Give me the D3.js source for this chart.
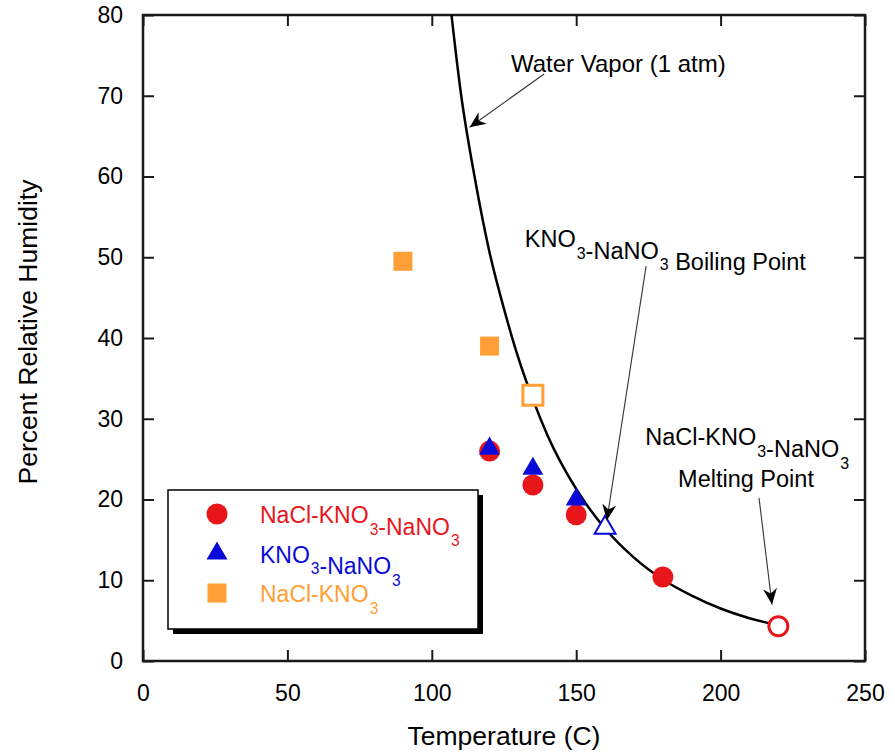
<!DOCTYPE html>
<html>
<head>
<meta charset="utf-8">
<script src="https://cdn.jsdelivr.net/npm/d3@7"></script>
<style>
  body { margin: 0; background: #fff; }
  text { font-family: "Liberation Sans", Arial, sans-serif; }
</style>
</head>
<body>
<div id="chart"></div>
<script>
// Data
const ternaryT = [120, 135, 150, 180];          // NaCl-KNO3-NaNO3
const ternaryRH = [26.0, 21.8, 18.1, 10.4];
const ternaryMelt = {t: 220, rh: 4.3};

const binaryT = [120, 135, 150];                // KNO3-NaNO3
const binaryRH = [26.3, 23.8, 20.0];
const binaryBoil = {t: 160, rh: 16.5};

const naclT = [90, 120];                        // NaCl-KNO3
const naclRH = [49.5, 39.0];
const naclOpen = {t: 135, rh: 32.9};

// water vapour (1 atm) curve
const vaporT = [106.5, 110, 115, 120, 125, 130, 135, 140, 150, 160, 170, 180, 190, 200, 210, 220];
const vaporRH = [81, 70.5, 59.6, 50.6, 43.6, 37.5, 32.4, 28.0, 21.3, 16.4, 12.8, 10.1, 8.1, 6.5, 5.3, 4.4];

const xTicks = [0, 50, 100, 150, 200, 250];
const yTicks = [0, 10, 20, 30, 40, 50, 60, 70, 80];

const red = "#e8161b", blue = "#0a0ad8", orange = "#ff9f35";

const W = 895, H = 752;
const margin = {top: 15, right: 30, bottom: 91, left: 143},
      width = W - margin.left - margin.right,
      height = H - margin.top - margin.bottom;

const svg = d3.select("#chart").append("svg")
    .attr("width", W).attr("height", H);

const defs = svg.append("defs");
defs.append("clipPath").attr("id", "clip")
  .append("rect").attr("width", width).attr("height", height);
defs.append("marker")
    .attr("id", "arrow")
    .attr("viewBox", "-16 -8 18 16")
    .attr("markerUnits", "userSpaceOnUse")
    .attr("markerWidth", 18).attr("markerHeight", 16)
    .attr("refX", 0).attr("refY", 0)
    .attr("orient", "auto")
  .append("path")
    .attr("d", "M0,0 L-16,-7 L-11,0 L-16,7 Z")
    .attr("fill", "#000");

const g = svg.append("g")
    .attr("transform", `translate(${margin.left},${margin.top})`);

const x = d3.scaleLinear().domain([0, 250]).range([0, width]);
const y = d3.scaleLinear().domain([0, 80]).range([height, 0]);

// Axes with inward ticks, mirrored on top/right
const tickLen = 11;
const axisColor = "#1a1a1a";
function styleAxis(sel) {
  sel.select(".domain").remove();
  sel.selectAll(".tick line").attr("stroke", axisColor).attr("stroke-width", 2);
}
g.append("g").attr("transform", `translate(0,${height})`)
  .call(d3.axisBottom(x).tickValues(xTicks).tickSize(-tickLen).tickPadding(24).tickFormat(d3.format("d")))
  .call(styleAxis)
  .call(s => s.selectAll("text").attr("font-size", 23).attr("fill", "#000")
      .attr("font-family", "Liberation Sans, Arial, sans-serif"));
g.append("g")
  .call(d3.axisTop(x).tickValues(xTicks).tickSize(-tickLen).tickFormat(""))
  .call(styleAxis);
g.append("g")
  .call(d3.axisLeft(y).tickValues(yTicks).tickSize(-tickLen).tickPadding(20))
  .call(styleAxis)
  .call(s => s.selectAll("text").attr("font-size", 23).attr("fill", "#000")
      .attr("font-family", "Liberation Sans, Arial, sans-serif"));
g.append("g").attr("transform", `translate(${width},0)`)
  .call(d3.axisRight(y).tickValues(yTicks).tickSize(-tickLen).tickFormat(""))
  .call(styleAxis);

g.append("rect")
    .attr("width", width).attr("height", height)
    .attr("fill", "none").attr("stroke", axisColor).attr("stroke-width", 2.5);

// Axis titles
g.append("text")
    .attr("x", width / 2).attr("y", height + 84)
    .attr("text-anchor", "middle").attr("font-size", 26.5)
    .text("Temperature (C)");
g.append("text")
    .attr("transform", `translate(${-106},${height / 2 - 6}) rotate(-90)`)
    .attr("text-anchor", "middle").attr("font-size", 26.5)
    .text("Percent Relative Humidity");

// Water vapour curve
const vapor = vaporT.map((t, i) => ({t: t, rh: vaporRH[i]}));
g.append("path")
    .datum(vapor)
    .attr("clip-path", "url(#clip)")
    .attr("fill", "none").attr("stroke", "#000").attr("stroke-width", 2.5)
    .attr("d", d3.line().x(d => x(d.t)).y(d => y(d.rh)).curve(d3.curveMonotoneX));

// Markers
const circle = d3.symbol().type(d3.symbolCircle).size(Math.PI * 10.5 * 10.5);
const tri = d3.symbol().type(d3.symbolTriangle).size(190);
const square = d3.symbol().type(d3.symbolSquare).size(19 * 19);

const nacl = naclT.map((t, i) => ({t: t, rh: naclRH[i]}));
g.selectAll(".nacl").data(nacl).join("path")
    .attr("class", "nacl")
    .attr("d", square)
    .attr("transform", d => `translate(${x(d.t)},${y(d.rh)})`)
    .attr("fill", orange);
g.append("path")
    .attr("d", d3.symbol().type(d3.symbolSquare).size(20 * 20)())
    .attr("transform", `translate(${x(naclOpen.t)},${y(naclOpen.rh)})`)
    .attr("fill", "#fff").attr("stroke", orange).attr("stroke-width", 3);

const ternary = ternaryT.map((t, i) => ({t: t, rh: ternaryRH[i]}));
g.selectAll(".tern").data(ternary).join("path")
    .attr("class", "tern")
    .attr("d", circle)
    .attr("transform", d => `translate(${x(d.t)},${y(d.rh)})`)
    .attr("fill", red);
g.append("circle")
    .attr("cx", x(ternaryMelt.t)).attr("cy", y(ternaryMelt.rh)).attr("r", 9.5)
    .attr("fill", "#fff").attr("stroke", red).attr("stroke-width", 3);

const binary = binaryT.map((t, i) => ({t: t, rh: binaryRH[i]}));
g.selectAll(".bin").data(binary).join("path")
    .attr("class", "bin")
    .attr("d", tri)
    .attr("transform", d => `translate(${x(d.t)},${y(d.rh)})`)
    .attr("fill", blue);
g.append("path")
    .attr("d", tri)
    .attr("transform", `translate(${x(binaryBoil.t)},${y(binaryBoil.rh)})`)
    .attr("fill", "#fff").attr("stroke", blue).attr("stroke-width", 2);

// Annotations
function subText(sel, parts, size) {
  parts.forEach(p => {
    if (p.sub) {
      sel.append("tspan").attr("font-size", size * 0.68).attr("dx", 1).attr("dy", size * 0.5).text(p.sub);
      sel.append("tspan").attr("font-size", size).attr("dx", 1).attr("dy", -size * 0.5).text("");
    } else {
      sel.append("tspan").attr("font-size", size).text(p.t);
    }
  });
}
function arrow(x1, y1, x2, y2) {
  g.append("line")
      .attr("x1", x(x1)).attr("y1", y(y1)).attr("x2", x(x2)).attr("y2", y(y2))
      .attr("stroke", "#333").attr("stroke-width", 1.1)
      .attr("marker-end", "url(#arrow)");
}

g.append("text").attr("x", x(127.4)).attr("y", y(72.9)).attr("font-size", 24)
    .text("Water Vapor (1 atm)");
arrow(138.9, 72.7, 113.1, 66.1);

subText(g.append("text").attr("x", x(132.2)).attr("y", y(51.3)),
  [{t: "KNO"}, {sub: "3"}, {t: "-NaNO"}, {sub: "3"}, {t: " Boiling Point"}], 23.5);
arrow(174.2, 48.9, 160.6, 17.4);

subText(g.append("text").attr("x", x(209.2)).attr("y", y(26.7)).attr("text-anchor", "middle"),
  [{t: "NaCl-KNO"}, {sub: "3"}, {t: "-NaNO"}, {sub: "3"}], 23.5);
g.append("text").attr("x", x(208.8)).attr("y", y(21.5)).attr("text-anchor", "middle")
    .attr("font-size", 23.5).text("Melting Point");
arrow(213.3, 20.2, 217.8, 7.0);

// Legend
const lx = 168 - margin.left, ly = 490 - margin.top, lw = 310, lh = 139;
g.append("rect").attr("x", lx + 5).attr("y", ly + 5).attr("width", lw).attr("height", lh)
    .attr("fill", "#000");
g.append("rect").attr("x", lx).attr("y", ly).attr("width", lw).attr("height", lh)
    .attr("fill", "#fff").attr("stroke", "#000").attr("stroke-width", 1.5);

const legendItems = [
  {sym: circle, color: red, parts: [{t: "NaCl-KNO"}, {sub: "3"}, {t: "-NaNO"}, {sub: "3"}]},
  {sym: tri, color: blue, parts: [{t: "KNO"}, {sub: "3"}, {t: "-NaNO"}, {sub: "3"}]},
  {sym: square, color: orange, parts: [{t: "NaCl-KNO"}, {sub: "3"}]}
];
legendItems.forEach((d, i) => {
  const cy = ly + 24 + i * 39.5;
  g.append("path").attr("d", d.sym).attr("fill", d.color)
      .attr("transform", `translate(${lx + 49},${cy})`);
  subText(g.append("text").attr("x", lx + 92).attr("y", cy + 9).attr("fill", d.color),
    d.parts, 23);
});
</script>
</body>
</html>
